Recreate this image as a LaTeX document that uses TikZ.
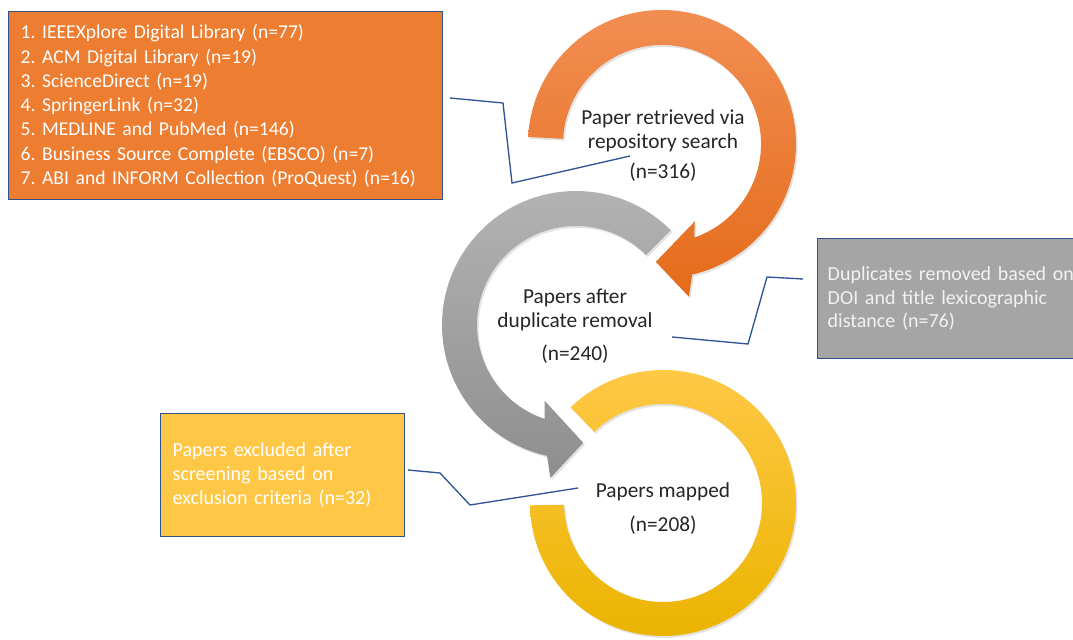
\documentclass[tikz,border=0pt]{standalone}
\usepackage{fontspec}
\setmainfont{Carlito}
\usetikzlibrary{shadows}

\definecolor{boxedge}{HTML}{2F528F}
\definecolor{leader}{HTML}{2F5597}
\definecolor{srcorange}{HTML}{ED7D31}
\definecolor{dupgray}{HTML}{A5A5A5}
\definecolor{exclgold}{HTML}{FEC745}
\definecolor{ringtxt}{HTML}{262626}
\definecolor{orangetop}{HTML}{F28E53}
\definecolor{orangebot}{HTML}{E46C1A}
\definecolor{graytop}{HTML}{B4B4B4}
\definecolor{graybot}{HTML}{8E8E8E}
\definecolor{goldtop}{HTML}{FFC846}
\definecolor{goldmid}{HTML}{FFC000}
\definecolor{goldbot}{HTML}{EBB400}

\begin{document}
\frenchspacing
\begin{tikzpicture}[
		x=0.75pt,y=0.75pt,
		infobox/.style={draw=boxedge,line width=1.1pt,rectangle,anchor=north west,align=left,text=white,font=\fontsize{15}{18.2}\selectfont},
		ringtext/.style={align=center,text=ringtxt,font=\fontsize{16}{18}\selectfont},
		ringshadow/.style={drop shadow={opacity=0.22,shadow xshift=1.2pt,shadow yshift=-1.5pt}},
		callout/.style={draw=leader,line width=1pt}
		]
		\useasboundingbox (0,0) rectangle (1073,639);
		\fill[white] (0,0) rectangle (1073,639);
		% rings
		\begin{scope}[shift={(663,136)}]
			\path[ringshadow,top color=goldtop,middle color=goldmid,bottom color=goldbot]
			(-179:133) arc[start angle=-179,end angle=134,radius=133]
			-- (134:99) arc[start angle=134,end angle=-179,radius=99] -- cycle;
		\end{scope}
		\begin{scope}[shift={(576,314)}]
			\path[ringshadow,top color=graytop,bottom color=graybot]
			(45:134) arc[start angle=45,end angle=257.5,radius=134]
			-- (260.5:155) -- (273.5:118) -- (247.5:82) -- (251.5:99)
			arc[start angle=251.5,end angle=45,radius=99] -- cycle;
		\end{scope}
		\begin{scope}[shift={(662,495)}]
			\path[ringshadow,top color=orangetop,bottom color=orangebot]
			(177:134) arc[start angle=177,end angle=-77,radius=134]
			-- (-80:155) -- (-93:118) -- (-67:84) -- (-71:99)
			arc[start angle=-71,end angle=177,radius=99] -- cycle;
		\end{scope}
		% texts in the rings
		\node[ringtext] (retrieved) at (663,493.5) {Paper retrieved via\\repository search\\[5pt](n=316)};
		\node[ringtext] (dedup) at (575,312.5) {Papers after\\duplicate removal\\[7pt](n=240)};
		\node[ringtext] (mapped) at (663,130.5) {Papers mapped\\[7pt](n=208)};
		% side boxes
		\node[infobox,fill=srcorange,inner xsep=9pt,text width=307.5pt,minimum height=141pt,font=\fontsize{14.7}{18.2}\selectfont] (srclist) at (8,628)
		{1. IEEEXplore Digital Library (n=77)\\
			2. ACM Digital Library (n=19)\\
			3. ScienceDirect (n=19)\\
			4. SpringerLink (n=32)\\
			5. MEDLINE and PubMed (n=146)\\
			6. Business Source Complete (EBSCO) (n=7)\\
			7. ABI and INFORM Collection (ProQuest) (n=16)};
		\node[infobox,fill=dupgray,text=white!95!black,inner xsep=7.5pt,text width=187.5pt,minimum height=90pt,font=\fontsize{15}{17.5}\selectfont] (dupinfo) at (817,401)
		{Duplicates removed based on\\DOI and title lexicographic\\distance (n=76)};
		\node[infobox,fill=exclgold,inner xsep=9pt,text width=165pt,minimum height=92pt] (exclinfo) at (160,226)
		{Papers excluded after\\screening based on\\exclusion criteria (n=32)};
		% leader lines
		\coordinate (srcpin) at (450,541);
		\coordinate (retrievedpin) at (630,483);
		\coordinate (duppin) at (803,360);
		\coordinate (dedpin) at (672,302);
		\coordinate (exclpin) at (408,169);
		\coordinate (mappedpin) at (578,151);
		\draw[callout] (srcpin) -- (503,536) -- (512,456) -- (retrievedpin);
		\draw[callout] (duppin) -- (767,362) -- (748,295) -- (dedpin);
		\draw[callout] (exclpin) -- (440,166) -- (470,134) -- (mappedpin);
	\end{tikzpicture}
\end{document}
